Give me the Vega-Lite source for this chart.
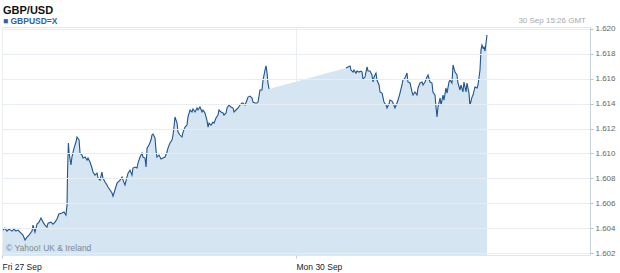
{
  "$schema": "https://vega.github.io/schema/vega-lite/v6.json",
  "width": 588,
  "height": 228,
  "autosize": "none",
  "padding": {"left": 2, "top": 27, "right": 30, "bottom": 18},
  "background": "white",
  "config": {
    "font": "Liberation Sans",
    "view": {"stroke": "#e3e7ec", "strokeWidth": 1}
  },
  "title": {
    "text": "GBP/USD",
    "subtitle": "■ GBPUSD=X",
    "anchor": "start",
    "frame": "group",
    "font": "Liberation Sans",
    "fontSize": 11,
    "fontWeight": "bold",
    "color": "#111111",
    "subtitleFont": "Liberation Sans",
    "subtitleFontSize": 8.5,
    "subtitleFontWeight": "bold",
    "subtitleColor": "#2f62a0",
    "subtitlePadding": 1,
    "offset": -8,
    "dx": 1
  },
  "datasets": {
    "fx": [
      {"h":0.08,"v":1.60384,"s":"F"},{"h":0.24,"v":1.60400,"s":"F"},{"h":0.41,"v":1.60376,"s":"F"},{"h":0.57,"v":1.60392,"s":"F"},
      {"h":0.82,"v":1.60376,"s":"F"},{"h":0.98,"v":1.60392,"s":"F"},{"h":1.14,"v":1.60376,"s":"F"},{"h":1.31,"v":1.60384,"s":"F"},
      {"h":1.55,"v":1.60360,"s":"F"},{"h":1.71,"v":1.60344,"s":"F"},{"h":1.88,"v":1.60304,"s":"F"},{"h":2.04,"v":1.60328,"s":"F"},
      {"h":2.20,"v":1.60344,"s":"F"},{"h":2.45,"v":1.60376,"s":"F"},{"h":2.53,"v":1.60424,"s":"F"},{"h":2.69,"v":1.60368,"s":"F"},
      {"h":2.86,"v":1.60432,"s":"F"},{"h":3.02,"v":1.60448,"s":"F"},{"h":3.18,"v":1.60481,"s":"F"},{"h":3.35,"v":1.60448,"s":"F"},
      {"h":3.51,"v":1.60424,"s":"F"},{"h":3.67,"v":1.60408,"s":"F"},{"h":3.76,"v":1.60440,"s":"F"},{"h":4.00,"v":1.60448,"s":"F"},
      {"h":4.16,"v":1.60432,"s":"F"},{"h":4.33,"v":1.60448,"s":"F"},{"h":4.49,"v":1.60473,"s":"F"},{"h":4.65,"v":1.60513,"s":"F"},
      {"h":4.90,"v":1.60521,"s":"F"},{"h":5.06,"v":1.60529,"s":"F"},{"h":5.22,"v":1.60505,"s":"F"},{"h":5.31,"v":1.60585,"s":"F"},
      {"h":5.35,"v":1.60850,"s":"F"},{"h":5.42,"v":1.61084,"s":"F"},{"h":5.47,"v":1.61011,"s":"F"},{"h":5.63,"v":1.60907,"s":"F"},
      {"h":5.71,"v":1.60971,"s":"F"},{"h":5.80,"v":1.61011,"s":"F"},{"h":5.88,"v":1.61043,"s":"F"},{"h":6.04,"v":1.61092,"s":"F"},
      {"h":6.12,"v":1.61132,"s":"F"},{"h":6.29,"v":1.61108,"s":"F"},{"h":6.37,"v":1.61003,"s":"F"},{"h":6.53,"v":1.60987,"s":"F"},
      {"h":6.61,"v":1.60963,"s":"F"},{"h":6.78,"v":1.60971,"s":"F"},{"h":6.94,"v":1.60947,"s":"F"},{"h":7.02,"v":1.60963,"s":"F"},
      {"h":7.18,"v":1.60931,"s":"F"},{"h":7.35,"v":1.60883,"s":"F"},{"h":7.43,"v":1.60850,"s":"F"},{"h":7.59,"v":1.60826,"s":"F"},
      {"h":7.76,"v":1.60842,"s":"F"},{"h":7.84,"v":1.60802,"s":"F"},{"h":8.00,"v":1.60786,"s":"F"},{"h":8.16,"v":1.60850,"s":"F"},
      {"h":8.24,"v":1.60802,"s":"F"},{"h":8.41,"v":1.60770,"s":"F"},{"h":8.57,"v":1.60746,"s":"F"},{"h":8.65,"v":1.60730,"s":"F"},
      {"h":8.82,"v":1.60706,"s":"F"},{"h":8.98,"v":1.60682,"s":"F"},{"h":9.06,"v":1.60657,"s":"F"},{"h":9.22,"v":1.60706,"s":"F"},
      {"h":9.39,"v":1.60762,"s":"F"},{"h":9.47,"v":1.60770,"s":"F"},{"h":9.63,"v":1.60786,"s":"F"},{"h":9.80,"v":1.60810,"s":"F"},
      {"h":9.88,"v":1.60786,"s":"F"},{"h":10.04,"v":1.60746,"s":"F"},{"h":10.20,"v":1.60810,"s":"F"},{"h":10.29,"v":1.60842,"s":"F"},
      {"h":10.45,"v":1.60866,"s":"F"},{"h":10.61,"v":1.60826,"s":"F"},{"h":10.69,"v":1.60883,"s":"F"},{"h":10.86,"v":1.60891,"s":"F"},
      {"h":11.02,"v":1.60883,"s":"F"},{"h":11.10,"v":1.60923,"s":"F"},{"h":11.27,"v":1.60971,"s":"F"},{"h":11.43,"v":1.61003,"s":"F"},
      {"h":11.51,"v":1.60971,"s":"F"},{"h":11.67,"v":1.60963,"s":"F"},{"h":11.76,"v":1.60891,"s":"F"},{"h":11.84,"v":1.61043,"s":"F"},
      {"h":12.00,"v":1.61067,"s":"F"},{"h":12.16,"v":1.61108,"s":"F"},{"h":12.24,"v":1.61148,"s":"F"},{"h":12.33,"v":1.61156,"s":"F"},
      {"h":12.49,"v":1.61124,"s":"F"},{"h":12.57,"v":1.61027,"s":"F"},{"h":12.65,"v":1.60971,"s":"F"},{"h":12.82,"v":1.60987,"s":"F"},
      {"h":12.98,"v":1.60955,"s":"F"},{"h":13.14,"v":1.60963,"s":"F"},{"h":13.31,"v":1.60971,"s":"F"},{"h":13.47,"v":1.61011,"s":"F"},
      {"h":13.55,"v":1.61043,"s":"F"},{"h":13.71,"v":1.61084,"s":"F"},{"h":13.88,"v":1.61108,"s":"F"},{"h":13.96,"v":1.61148,"s":"F"},
      {"h":14.04,"v":1.61212,"s":"F"},{"h":14.12,"v":1.61293,"s":"F"},{"h":14.29,"v":1.61244,"s":"F"},{"h":14.37,"v":1.61172,"s":"F"},
      {"h":14.53,"v":1.61148,"s":"F"},{"h":14.69,"v":1.61132,"s":"F"},{"h":14.78,"v":1.61172,"s":"F"},{"h":14.94,"v":1.61212,"s":"F"},
      {"h":15.10,"v":1.61228,"s":"F"},{"h":15.18,"v":1.61293,"s":"F"},{"h":15.35,"v":1.61349,"s":"F"},{"h":15.51,"v":1.61333,"s":"F"},
      {"h":15.59,"v":1.61357,"s":"F"},{"h":15.76,"v":1.61333,"s":"F"},{"h":15.92,"v":1.61365,"s":"F"},{"h":16.00,"v":1.61349,"s":"F"},
      {"h":16.16,"v":1.61373,"s":"F"},{"h":16.33,"v":1.61333,"s":"F"},{"h":16.41,"v":1.61349,"s":"F"},{"h":16.57,"v":1.61325,"s":"F"},
      {"h":16.73,"v":1.61268,"s":"F"},{"h":16.82,"v":1.61212,"s":"F"},{"h":16.90,"v":1.61244,"s":"F"},{"h":17.06,"v":1.61228,"s":"F"},
      {"h":17.22,"v":1.61252,"s":"F"},{"h":17.31,"v":1.61244,"s":"F"},{"h":17.47,"v":1.61285,"s":"F"},{"h":17.63,"v":1.61309,"s":"F"},
      {"h":17.71,"v":1.61349,"s":"F"},{"h":17.88,"v":1.61333,"s":"F"},{"h":18.04,"v":1.61325,"s":"F"},{"h":18.12,"v":1.61309,"s":"F"},
      {"h":18.29,"v":1.61325,"s":"F"},{"h":18.37,"v":1.61365,"s":"F"},{"h":18.53,"v":1.61389,"s":"F"},{"h":18.69,"v":1.61373,"s":"F"},
      {"h":18.86,"v":1.61365,"s":"F"},{"h":18.94,"v":1.61333,"s":"F"},{"h":19.10,"v":1.61349,"s":"F"},{"h":19.27,"v":1.61365,"s":"F"},
      {"h":19.43,"v":1.61389,"s":"F"},{"h":19.59,"v":1.61405,"s":"F"},{"h":19.67,"v":1.61405,"s":"F"},{"h":19.84,"v":1.61389,"s":"F"},
      {"h":20.00,"v":1.61429,"s":"F"},{"h":20.08,"v":1.61453,"s":"F"},{"h":20.24,"v":1.61461,"s":"F"},{"h":20.41,"v":1.61445,"s":"F"},
      {"h":20.49,"v":1.61413,"s":"F"},{"h":20.65,"v":1.61405,"s":"F"},{"h":20.82,"v":1.61405,"s":"F"},{"h":20.90,"v":1.61413,"s":"F"},
      {"h":21.06,"v":1.61510,"s":"F"},{"h":21.22,"v":1.61510,"s":"F"},{"h":21.31,"v":1.61590,"s":"F"},{"h":21.47,"v":1.61670,"s":"F"},
      {"h":21.55,"v":1.61703,"s":"F"},{"h":21.63,"v":1.61654,"s":"F"},{"h":21.71,"v":1.61566,"s":"F"},{"h":21.80,"v":1.61518,"s":"F"},
      {"h":28.08,"v":1.61686,"s":"M"},{"h":28.24,"v":1.61695,"s":"M"},{"h":28.41,"v":1.61703,"s":"M"},{"h":28.49,"v":1.61670,"s":"M"},
      {"h":28.65,"v":1.61654,"s":"M"},{"h":28.73,"v":1.61670,"s":"M"},{"h":28.90,"v":1.61646,"s":"M"},{"h":28.98,"v":1.61662,"s":"M"},
      {"h":29.14,"v":1.61654,"s":"M"},{"h":29.31,"v":1.61662,"s":"M"},{"h":29.39,"v":1.61654,"s":"M"},{"h":29.47,"v":1.61598,"s":"M"},
      {"h":29.63,"v":1.61614,"s":"M"},{"h":29.80,"v":1.61695,"s":"M"},{"h":29.88,"v":1.61662,"s":"M"},{"h":30.04,"v":1.61662,"s":"M"},
      {"h":30.20,"v":1.61630,"s":"M"},{"h":30.29,"v":1.61574,"s":"M"},{"h":30.37,"v":1.61614,"s":"M"},{"h":30.53,"v":1.61646,"s":"M"},
      {"h":30.61,"v":1.61590,"s":"M"},{"h":30.78,"v":1.61550,"s":"M"},{"h":30.86,"v":1.61494,"s":"M"},{"h":31.02,"v":1.61485,"s":"M"},
      {"h":31.10,"v":1.61453,"s":"M"},{"h":31.18,"v":1.61413,"s":"M"},{"h":31.35,"v":1.61389,"s":"M"},{"h":31.43,"v":1.61365,"s":"M"},
      {"h":31.59,"v":1.61397,"s":"M"},{"h":31.67,"v":1.61429,"s":"M"},{"h":31.84,"v":1.61421,"s":"M"},{"h":31.92,"v":1.61405,"s":"M"},
      {"h":32.08,"v":1.61365,"s":"M"},{"h":32.24,"v":1.61405,"s":"M"},{"h":32.33,"v":1.61429,"s":"M"},{"h":32.49,"v":1.61485,"s":"M"},
      {"h":32.65,"v":1.61550,"s":"M"},{"h":32.73,"v":1.61590,"s":"M"},{"h":32.90,"v":1.61606,"s":"M"},{"h":33.06,"v":1.61646,"s":"M"},
      {"h":33.14,"v":1.61574,"s":"M"},{"h":33.31,"v":1.61566,"s":"M"},{"h":33.47,"v":1.61494,"s":"M"},{"h":33.55,"v":1.61469,"s":"M"},
      {"h":33.71,"v":1.61494,"s":"M"},{"h":33.88,"v":1.61469,"s":"M"},{"h":33.96,"v":1.61526,"s":"M"},{"h":34.12,"v":1.61566,"s":"M"},
      {"h":34.29,"v":1.61574,"s":"M"},{"h":34.37,"v":1.61550,"s":"M"},{"h":34.53,"v":1.61574,"s":"M"},{"h":34.69,"v":1.61614,"s":"M"},
      {"h":34.78,"v":1.61630,"s":"M"},{"h":34.94,"v":1.61574,"s":"M"},{"h":35.10,"v":1.61566,"s":"M"},{"h":35.18,"v":1.61494,"s":"M"},
      {"h":35.35,"v":1.61469,"s":"M"},{"h":35.43,"v":1.61373,"s":"M"},{"h":35.51,"v":1.61293,"s":"M"},{"h":35.59,"v":1.61373,"s":"M"},
      {"h":35.76,"v":1.61445,"s":"M"},{"h":35.84,"v":1.61389,"s":"M"},{"h":36.00,"v":1.61469,"s":"M"},{"h":36.08,"v":1.61429,"s":"M"},
      {"h":36.24,"v":1.61526,"s":"M"},{"h":36.33,"v":1.61485,"s":"M"},{"h":36.49,"v":1.61574,"s":"M"},{"h":36.57,"v":1.61590,"s":"M"},
      {"h":36.73,"v":1.61566,"s":"M"},{"h":36.82,"v":1.61711,"s":"M"},{"h":36.98,"v":1.61654,"s":"M"},{"h":37.14,"v":1.61630,"s":"M"},
      {"h":37.22,"v":1.61566,"s":"M"},{"h":37.39,"v":1.61510,"s":"M"},{"h":37.47,"v":1.61550,"s":"M"},{"h":37.63,"v":1.61494,"s":"M"},
      {"h":37.71,"v":1.61574,"s":"M"},{"h":37.88,"v":1.61494,"s":"M"},{"h":37.96,"v":1.61566,"s":"M"},{"h":38.12,"v":1.61485,"s":"M"},
      {"h":38.20,"v":1.61389,"s":"M"},{"h":38.37,"v":1.61453,"s":"M"},{"h":38.45,"v":1.61469,"s":"M"},{"h":38.61,"v":1.61534,"s":"M"},
      {"h":38.78,"v":1.61526,"s":"M"},{"h":38.86,"v":1.61550,"s":"M"},{"h":39.02,"v":1.61670,"s":"M"},{"h":39.10,"v":1.61831,"s":"M"},
      {"h":39.18,"v":1.61871,"s":"M"},{"h":39.27,"v":1.61847,"s":"M"},{"h":39.35,"v":1.61855,"s":"M"},{"h":39.43,"v":1.61823,"s":"M"},
      {"h":39.51,"v":1.61887,"s":"M"},{"h":39.59,"v":1.61952,"s":"M"}
    ]
  },
  "layer": [
    {
      "data": {"name": "fx"},
      "mark": {"type": "area", "color": "#d5e5f1", "interpolate": "linear", "clip": true},
      "encoding": {
        "x": {
          "field": "h", "type": "quantitative",
          "scale": {"domain": [0, 48], "nice": false, "zero": false},
          "axis": {
            "values": [0, 24],
            "tickCount": 20,
            "labelExpr": "datum.value == 0 ? 'Fri 27 Sep' : 'Mon 30 Sep'",
            "labelAlign": "left",
            "labelFont": "Liberation Sans",
            "labelFontSize": 8.5,
            "labelColor": "#222222",
            "labelPadding": 4,
            "labelFlush": false,
            "labelOverlap": false,
            "tickSize": 3,
            "tickColor": "#c5ccd4",
            "domain": false,
            "grid": true,
            "gridColor": "#e9eef3",
            "title": null
          }
        },
        "y": {
          "field": "v", "type": "quantitative",
          "scale": {"domain": [1.60184, 1.62016], "nice": false, "zero": false},
          "axis": {
            "orient": "right",
            "values": [1.602, 1.604, 1.606, 1.608, 1.61, 1.612, 1.614, 1.616, 1.618, 1.62],
            "tickCount": 20,
            "format": ".3f",
            "labelFont": "Liberation Sans",
            "labelFontSize": 8,
            "labelColor": "#666666",
            "labelPadding": 2,
            "labelOverlap": false,
            "labelFlush": false,
            "tickSize": 3,
            "tickColor": "#b8c0c8",
            "domainColor": "#c8d0d8",
            "gridColor": "#e7edf3",
            "title": null,
            "zindex": 1
          }
        }
      }
    },
    {
      "data": {"name": "fx"},
      "mark": {"type": "line", "color": "#1f5490", "strokeWidth": 1.1, "clip": true},
      "encoding": {
        "x": {"field": "h", "type": "quantitative"},
        "y": {"field": "v", "type": "quantitative"},
        "detail": {"field": "s"}
      }
    },
    {
      "data": {"values": [{"t": "30 Sep 15:26 GMT", "h": 48, "v": 1.62016}]},
      "mark": {"type": "text", "align": "right", "baseline": "alphabetic", "dx": -4, "dy": -4, "fontSize": 8, "color": "#a8a8a8", "font": "Liberation Sans"},
      "encoding": {
        "x": {"field": "h", "type": "quantitative"},
        "y": {"field": "v", "type": "quantitative"},
        "text": {"field": "t"}
      }
    },
    {
      "data": {"values": [{"t": "© Yahoo! UK & Ireland", "h": 0, "v": 1.60184}]},
      "mark": {"type": "text", "align": "left", "baseline": "alphabetic", "dx": 4, "dy": -4, "fontSize": 8.5, "color": "#7d8894", "font": "Liberation Sans"},
      "encoding": {
        "x": {"field": "h", "type": "quantitative"},
        "y": {"field": "v", "type": "quantitative"},
        "text": {"field": "t"}
      }
    }
  ]
}
